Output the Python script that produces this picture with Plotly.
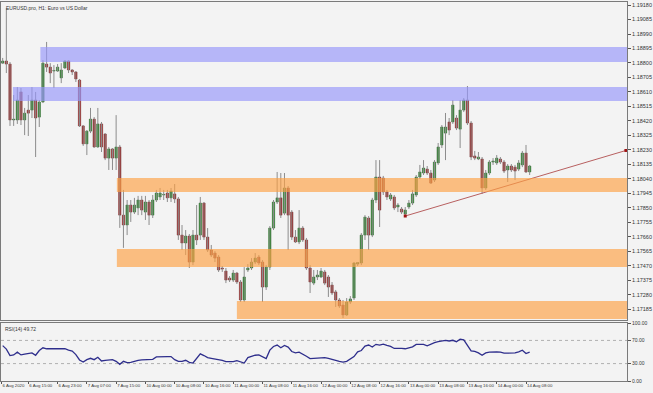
import plotly.graph_objects as go

# ---------------- data (EURUSD H1) ----------------
opens = [1.18799, 1.18813, 1.18793, 1.18426, 1.18426, 1.18610, 1.18426, 1.18491, 1.18491, 1.18557,
         1.18445, 1.18544, 1.18793, 1.18773, 1.18747, 1.18747, 1.18702, 1.18767, 1.18813, 1.18754,
         1.18741, 1.18688, 1.18387, 1.18269, 1.18353, 1.18432, 1.18249, 1.18400, 1.18334, 1.18176,
         1.18236, 1.18176, 1.18249, 1.17802, 1.17737, 1.17868, 1.17822, 1.17849, 1.17901, 1.17822,
         1.17888, 1.17802, 1.17901, 1.17921, 1.17934, 1.17947, 1.17915, 1.17941, 1.17908, 1.17671,
         1.17619, 1.17665, 1.17494, 1.17671, 1.17671, 1.17881, 1.17658, 1.17573, 1.17553, 1.17527,
         1.17455, 1.17435, 1.17389, 1.17376, 1.17422, 1.17363, 1.17245, 1.17442, 1.17455, 1.17494,
         1.17527, 1.17494, 1.17330, 1.17461, 1.17717, 1.17888, 1.17915, 1.17815, 1.17980, 1.17822,
         1.17658, 1.17626, 1.17717, 1.17639, 1.17455, 1.17356, 1.17396, 1.17396, 1.17429, 1.17396,
         1.17343, 1.17298, 1.17245, 1.17212, 1.17147, 1.17232, 1.17258, 1.17481, 1.17488, 1.17671,
         1.17783, 1.17671, 1.17901, 1.18052, 1.18045, 1.17954, 1.17908, 1.17921, 1.17855, 1.17842,
         1.17809, 1.17855, 1.17881, 1.17934, 1.18052, 1.18078, 1.18104, 1.18078, 1.18032, 1.18144,
         1.18262, 1.18340, 1.18413, 1.18413, 1.18439, 1.18366, 1.18491, 1.18557, 1.18406, 1.18190,
         1.18170, 1.18170, 1.17980, 1.18078, 1.18150, 1.18144, 1.18170, 1.18150, 1.18098, 1.18124,
         1.18117, 1.18104, 1.18131, 1.18209, 1.18085]
highs = [1.18833, 1.19161, 1.18806, 1.18590, 1.18642, 1.18636, 1.18505, 1.18590, 1.18642, 1.18610,
         1.18557, 1.18819, 1.18938, 1.18799, 1.18786, 1.18793, 1.18799, 1.18819, 1.18819, 1.18760,
         1.18747, 1.18695, 1.18393, 1.18360, 1.18505, 1.18445, 1.18505, 1.18413, 1.18340, 1.18249,
         1.18242, 1.18458, 1.18262, 1.17967, 1.17901, 1.17901, 1.17915, 1.17928, 1.17928, 1.17928,
         1.17901, 1.17934, 1.17967, 1.17980, 1.17967, 1.17967, 1.17980, 1.18006, 1.17921, 1.17737,
         1.17704, 1.17678, 1.17704, 1.17868, 1.17921, 1.17888, 1.17717, 1.17606, 1.17566, 1.17540,
         1.17468, 1.17455, 1.17402, 1.17442, 1.17429, 1.17376, 1.17461, 1.17481, 1.17520, 1.17553,
         1.17540, 1.17507, 1.17474, 1.17730, 1.17901, 1.18085, 1.18078, 1.18078, 1.17993, 1.17835,
         1.17704, 1.17835, 1.17730, 1.17652, 1.17474, 1.17442, 1.17442, 1.17455, 1.17442, 1.17409,
         1.17363, 1.17311, 1.17258, 1.17245, 1.17258, 1.17271, 1.17494, 1.17494, 1.17684, 1.17802,
         1.17796, 1.17915, 1.18163, 1.18163, 1.18059, 1.17967, 1.17947, 1.17934, 1.17881, 1.17855,
         1.17855, 1.17901, 1.17967, 1.18065, 1.18131, 1.18163, 1.18124, 1.18098, 1.18163, 1.18275,
         1.18393, 1.18472, 1.18439, 1.18557, 1.18458, 1.18557, 1.18570, 1.18649, 1.18419, 1.18223,
         1.18216, 1.18183, 1.18098, 1.18163, 1.18176, 1.18196, 1.18183, 1.18163, 1.18137, 1.18137,
         1.18131, 1.18163, 1.18223, 1.18262, 1.18131]
lows = [1.18793, 1.18734, 1.18387, 1.18387, 1.18400, 1.18393, 1.18327, 1.18321, 1.18439, 1.18183,
        1.18380, 1.18537, 1.18741, 1.18668, 1.18636, 1.18741, 1.18668, 1.18760, 1.18734, 1.18721,
        1.18675, 1.18380, 1.18256, 1.18196, 1.18340, 1.18243, 1.18243, 1.18216, 1.18163, 1.18098,
        1.18098, 1.18098, 1.17718, 1.17587, 1.17671, 1.17757, 1.17809, 1.17802, 1.17802, 1.17770,
        1.17737, 1.17783, 1.17888, 1.17901, 1.17901, 1.17888, 1.17888, 1.17881, 1.17639, 1.17573,
        1.17540, 1.17455, 1.17474, 1.17606, 1.17639, 1.17639, 1.17560, 1.17527, 1.17494, 1.17429,
        1.17429, 1.17356, 1.17363, 1.17363, 1.17350, 1.17232, 1.17232, 1.17429, 1.17442, 1.17481,
        1.17474, 1.17232, 1.17311, 1.17442, 1.17704, 1.17875, 1.17783, 1.17802, 1.17573, 1.17639,
        1.17619, 1.17612, 1.17626, 1.17442, 1.17291, 1.17343, 1.17376, 1.17389, 1.17343, 1.17265,
        1.17278, 1.17199, 1.17193, 1.17127, 1.17140, 1.17219, 1.17245, 1.17468, 1.17474, 1.17639,
        1.17573, 1.17658, 1.17881, 1.17724, 1.17934, 1.17901, 1.17895, 1.17835, 1.17822, 1.17809,
        1.17796, 1.17842, 1.17868, 1.17921, 1.18039, 1.18065, 1.18065, 1.18006, 1.18019, 1.18131,
        1.18242, 1.18163, 1.18327, 1.18400, 1.18360, 1.18242, 1.18478, 1.18393, 1.18163, 1.18163,
        1.18163, 1.17941, 1.17967, 1.18065, 1.18131, 1.18131, 1.18137, 1.18078, 1.18019, 1.18085,
        1.18032, 1.18091, 1.18117, 1.18078, 1.18065]
closes = [1.18813, 1.18793, 1.18426, 1.18432, 1.18557, 1.18426, 1.18471, 1.18471, 1.18557, 1.18439,
          1.18544, 1.18799, 1.18773, 1.18734, 1.18748, 1.18773, 1.18754, 1.18813, 1.18754, 1.18741,
          1.18695, 1.18387, 1.18269, 1.18353, 1.18432, 1.18249, 1.18400, 1.18249, 1.18176, 1.18236,
          1.18176, 1.18249, 1.17802, 1.17737, 1.17868, 1.17822, 1.17868, 1.17901, 1.17835, 1.17888,
          1.17802, 1.17901, 1.17947, 1.17947, 1.17935, 1.17915, 1.17960, 1.17908, 1.17671, 1.17619,
          1.17665, 1.17494, 1.17671, 1.17639, 1.17881, 1.17658, 1.17573, 1.17540, 1.17520, 1.17442,
          1.17448, 1.17376, 1.17376, 1.17422, 1.17363, 1.17245, 1.17396, 1.17455, 1.17494, 1.17520,
          1.17488, 1.17330, 1.17461, 1.17717, 1.17888, 1.17915, 1.17802, 1.17980, 1.17802, 1.17658,
          1.17626, 1.17717, 1.17639, 1.17455, 1.17363, 1.17396, 1.17409, 1.17435, 1.17356, 1.17330,
          1.17291, 1.17245, 1.17206, 1.17147, 1.17232, 1.17252, 1.17488, 1.17491, 1.17671, 1.17789,
          1.17671, 1.17901, 1.18052, 1.17835, 1.17954, 1.17921, 1.17934, 1.17849, 1.17868, 1.17822,
          1.17835, 1.17881, 1.17941, 1.18052, 1.18085, 1.18111, 1.18078, 1.18012, 1.18150, 1.18249,
          1.18380, 1.18380, 1.18360, 1.18524, 1.18373, 1.18491, 1.18557, 1.18406, 1.18183, 1.18176,
          1.18183, 1.17980, 1.18078, 1.18150, 1.18157, 1.18176, 1.18150, 1.18091, 1.18124, 1.18098,
          1.18091, 1.18144, 1.18209, 1.18085, 1.18124]
rsi = [61.0, 55.0, 43.9, 45.0, 49.7, 45.0, 46.2, 47.3, 48.5, 44.4,
       52.6, 57.3, 55.6, 55.6, 55.6, 55.6, 56.1, 55.6, 53.2, 51.5,
       45.6, 36.3, 32.7, 36.8, 39.2, 36.8, 40.9, 34.5, 35.7, 36.3,
       36.8, 33.9, 28.7, 33.9, 31.6, 32.2, 34.5, 35.7, 36.3, 36.8,
       36.3, 37.4, 41.5, 42.1, 42.1, 42.1, 42.1, 36.8, 33.9, 33.9,
       35.7, 32.2, 31.0, 38.6, 46.8, 43.9, 40.4, 39.2, 38.0, 37.4,
       35.7, 33.3, 33.3, 33.3, 35.1, 33.3, 31.0, 40.4, 42.7, 44.4,
       45.0, 41.5, 38.6, 53.2, 59.6, 62.0, 57.3, 61.4, 58.5, 50.9,
       48.5, 49.7, 46.8, 42.7, 38.6, 39.2, 40.4, 40.9, 40.4, 39.2,
       38.0, 35.7, 33.9, 32.7, 33.9, 38.0, 42.1, 50.3, 52.6, 60.2,
       62.0, 58.5, 63.2, 62.0, 63.7, 61.4, 59.6, 56.1, 56.7, 56.1,
       55.6, 56.7, 59.0, 63.2, 63.7, 63.2, 60.8, 63.7, 66.0, 67.8,
       69.6, 70.2, 69.0, 70.2, 67.8, 71.9, 70.8, 60.8, 52.1, 50.9,
       48.5, 44.4, 48.5, 49.7, 50.3, 50.3, 49.7, 47.9, 47.9, 47.9,
       48.5, 50.3, 53.2, 47.3, 49.72]

# zones: start bar, lower price, upper price
zone_start = [10.3, 2.8, 31.2, 31.2, 64.0]
zone_low = [1.18806, 1.18550, 1.17954, 1.17461, 1.17120]
zone_high = [1.18905, 1.18642, 1.18045, 1.17580, 1.17238]
zone_kind = ["resistance", "resistance", "support", "support", "support"]

trend_x = [110, 170.3]
trend_y = [1.17796, 1.18226]

price_ticks = [1.19180, 1.19085, 1.18990, 1.18895, 1.18800, 1.18705, 1.18610, 1.18515,
               1.18420, 1.18325, 1.18230, 1.18135, 1.18040, 1.17945, 1.17850, 1.17755,
               1.17660, 1.17565, 1.17470, 1.17375, 1.17280, 1.17185]
time_tick_pos = [-0.3, 7, 15, 23, 31, 39, 47, 55, 63, 71, 79, 87, 95, 103, 111, 119, 127, 135, 143]
time_tick_text = ["6 Aug 2020", "6 Aug 15:00", "6 Aug 23:00", "7 Aug 07:00", "7 Aug 15:00",
                  "10 Aug 00:00", "10 Aug 08:00", "10 Aug 16:00", "11 Aug 00:00", "11 Aug 08:00",
                  "11 Aug 16:00", "12 Aug 00:00", "12 Aug 08:00", "12 Aug 16:00", "13 Aug 00:00",
                  "13 Aug 08:00", "13 Aug 16:00", "14 Aug 00:00", "14 Aug 08:00"]
rsi_ticks = [100, 70, 30, 0]
rsi_levels = [70, 30]

# ---------------- build ----------------
n = len(opens)
idx = list(range(n))
X_MIN, X_MAX = -0.46, 170.6
BG = "#f3f3f3"
FONT = "Liberation Sans"

fig = go.Figure()

# wicks
wx, wy = [], []
for i in idx:
    wx += [i, i, None]
    wy += [lows[i], highs[i], None]
fig.add_trace(go.Scatter(x=wx, y=wy, mode="lines", line=dict(color="#8c8c8c", width=1),
                         hoverinfo="skip", showlegend=False, xaxis="x", yaxis="y"))

MINB = 0.00004
up = [i for i in idx if closes[i] >= opens[i]]
dn = [i for i in idx if closes[i] < opens[i]]
fig.add_trace(go.Bar(x=up, base=[opens[i] for i in up],
                     y=[max(closes[i] - opens[i], MINB) for i in up],
                     width=0.64, marker=dict(color="#1d8a1d", line=dict(color="#2c5e2c", width=0.5)),
                     showlegend=False, hoverinfo="skip", xaxis="x", yaxis="y"))
fig.add_trace(go.Bar(x=dn, base=[closes[i] for i in dn],
                     y=[max(opens[i] - closes[i], MINB) for i in dn],
                     width=0.64, marker=dict(color="#a81f1f", line=dict(color="#6e2a2a", width=0.5)),
                     showlegend=False, hoverinfo="skip", xaxis="x", yaxis="y"))

# trendline
fig.add_trace(go.Scatter(x=trend_x, y=trend_y, mode="lines+markers",
                         line=dict(color="#b86060", width=1),
                         marker=dict(color="#a01414", size=3, symbol="square"),
                         showlegend=False, hoverinfo="skip", xaxis="x", yaxis="y"))

# RSI
fig.add_trace(go.Scatter(x=idx, y=rsi, mode="lines", line=dict(color="#2e2e8c", width=1.3),
                         showlegend=False, hoverinfo="skip", xaxis="x2", yaxis="y2"))

shapes = []
for s, lo, hi, k in zip(zone_start, zone_low, zone_high, zone_kind):
    col = "rgba(150,150,250,0.66)" if k == "resistance" else "rgba(253,161,69,0.66)"
    shapes.append(dict(type="rect", xref="x", yref="y", x0=s, x1=X_MAX, y0=lo, y1=hi,
                       fillcolor=col, line=dict(width=0), layer="above"))
for lv in rsi_levels:
    shapes.append(dict(type="line", xref="x2", yref="y2", x0=X_MIN, x1=X_MAX, y0=lv, y1=lv,
                       line=dict(color="#b0b0b0", width=1, dash="dot"), layer="below"))

annotations = [
    dict(text="EURUSD.pro, H1: Euro vs US Dollar", xref="paper", yref="paper", x=0.004, y=0.997,
         xanchor="left", yanchor="top", showarrow=False, font=dict(family=FONT, size=5, color="#333")),
    dict(text="RSI(14) 49.72", xref="paper", yref="paper", x=0.003, y=0.150,
         xanchor="left", yanchor="top", showarrow=False, font=dict(family=FONT, size=5, color="#333")),
]

axis_common = dict(showgrid=False, zeroline=False, showline=True, linecolor="#7a7a7a",
                   linewidth=1, mirror=True, automargin=False)

fig.update_layout(
    width=653, height=393,
    margin=dict(l=1, r=26, t=2, b=12, autoexpand=False),
    paper_bgcolor=BG, plot_bgcolor=BG,
    barmode="overlay",
    showlegend=False,
    shapes=shapes,
    annotations=annotations,
    font=dict(family=FONT, size=6, color="#333"),
    xaxis=dict(domain=[0, 1], anchor="y", range=[X_MIN, X_MAX], showticklabels=False,
               ticks="", **axis_common),
    yaxis=dict(domain=[0.161, 1], anchor="x", side="right", range=[1.17114, 1.19200],
               tickvals=price_ticks, ticktext=[f"{v:.5f}" for v in price_ticks],
               ticks="outside", ticklen=3, tickcolor="#555",
               tickfont=dict(family=FONT, size=5.5, color="#333"), **axis_common),
    xaxis2=dict(domain=[0, 1], anchor="y2", range=[X_MIN, X_MAX], tickvals=time_tick_pos,
                ticktext=time_tick_text, ticks="outside", ticklen=2, tickcolor="#555",
                ticklabelposition="outside right", tickangle=0,
                tickfont=dict(family=FONT, size=4.3, color="#333"), **axis_common),
    yaxis2=dict(domain=[0, 0.153], anchor="x2", side="right", range=[0, 100],
                tickvals=rsi_ticks, ticktext=[f"{v:.2f}" for v in rsi_ticks],
                ticks="outside", ticklen=3, tickcolor="#555",
                tickfont=dict(family=FONT, size=5, color="#333"), **axis_common),
)

fig.write_html("out.html")
